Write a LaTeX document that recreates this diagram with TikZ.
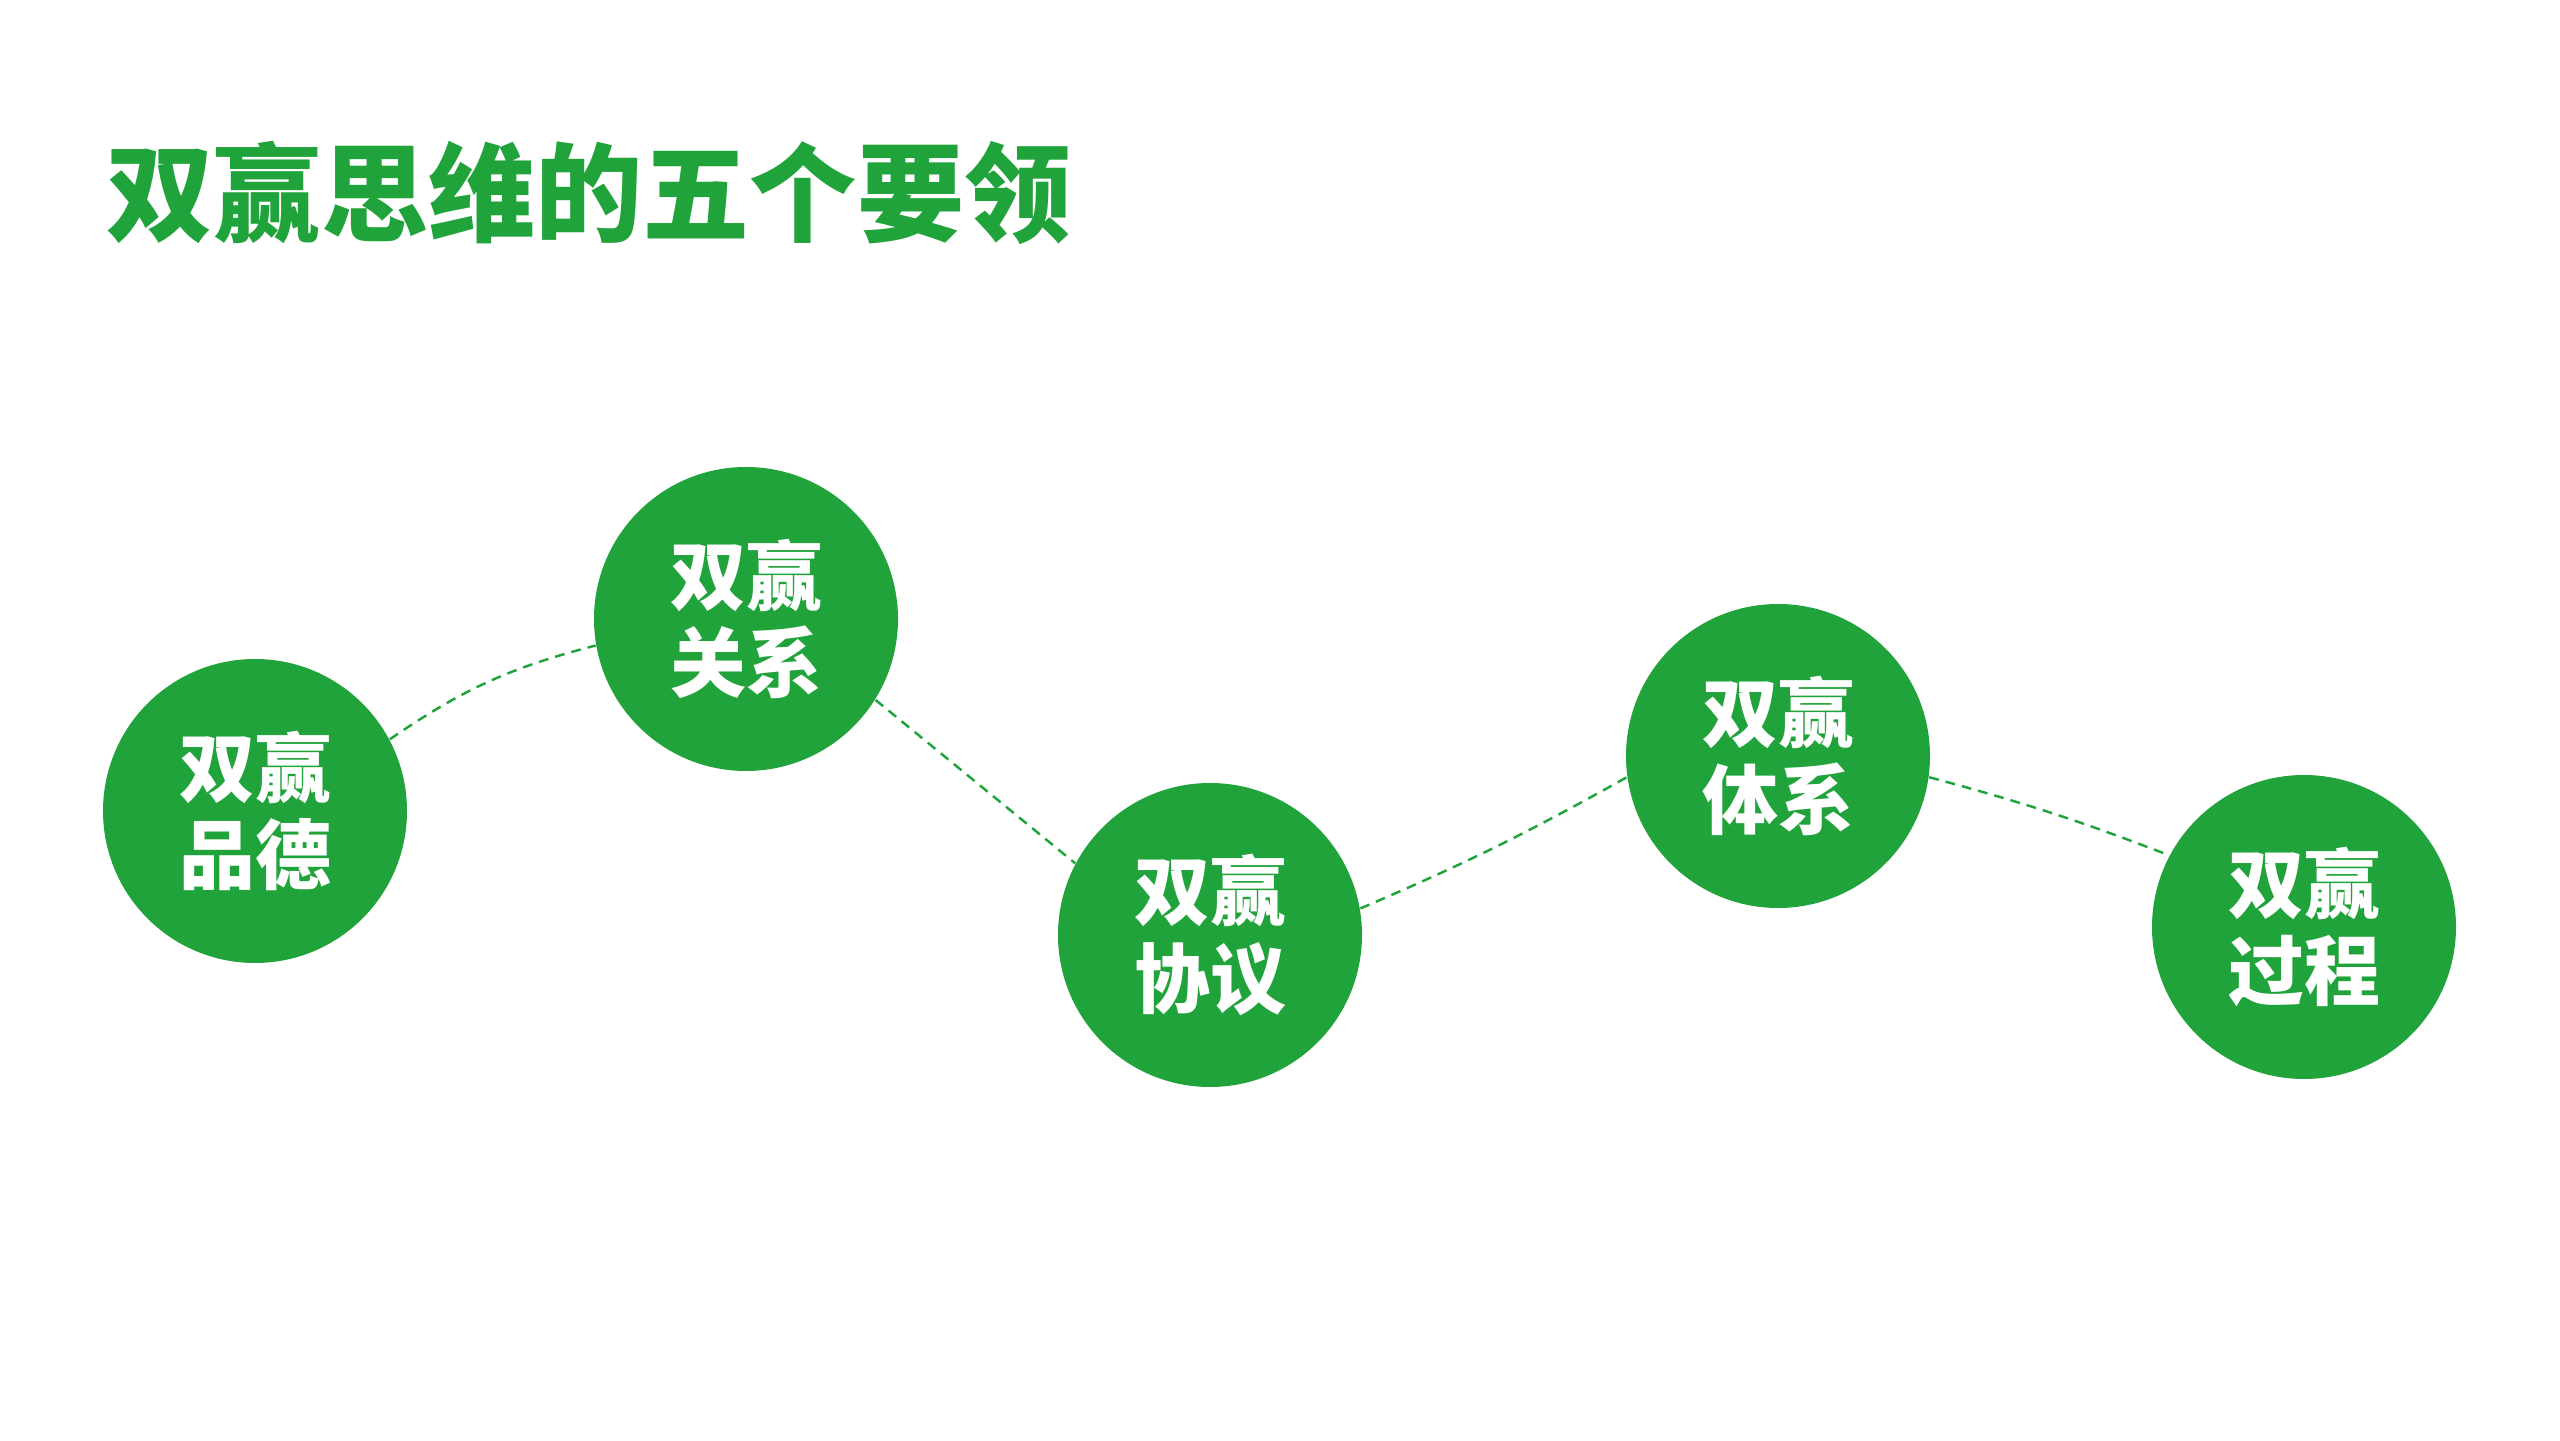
\documentclass[tikz,border=0pt]{standalone}
\usepackage{fontspec}
\newfontfamily\cjk{Noto Sans CJK SC}
\definecolor{wingreen}{RGB}{32,163,58}

\begin{document}
\begin{tikzpicture}[x=1cm,y=1cm,
	yuan/.style={circle, fill=wingreen, minimum size=3.04cm, inner sep=0pt, text=white,
		font=\cjk\bfseries\fontsize{21.6}{25}\selectfont, align=center},
	xuxian/.style={draw=wingreen, line width=0.7pt, dash pattern=on 2.8pt off 2pt}]
	\useasboundingbox (0,0) rectangle (25.6,14.4);
	\node[anchor=west, inner sep=0pt, text=wingreen, font=\cjk\bfseries\fontsize{30.5}{34}\selectfont] (biaoti) at (1.06,12.47) {双赢思维的五个要领};
	% five circles
	\node[yuan] (pinde) at (2.55,6.29) {双赢\\品德};
	\node[yuan] (guanxi) at (7.46,8.21) {双赢\\关系};
	\node[yuan] (xieyi) at (12.10,5.05) {双赢\\协议};
	\node[yuan] (tixi) at (17.78,6.84) {双赢\\体系};
	\node[yuan] (guocheng) at (23.04,5.13) {双赢\\过程};
	% dashed links
	\draw[xuxian] (pinde.28) to[bend left=10] (guanxi.190);
	\draw[xuxian] (guanxi.-32) -- (xieyi.152);
	\draw[xuxian] (xieyi.10) to[bend right=3] (tixi.188);
	\draw[xuxian] (tixi.-8) to[bend left=3] (guocheng.152);
\end{tikzpicture}
\end{document}
